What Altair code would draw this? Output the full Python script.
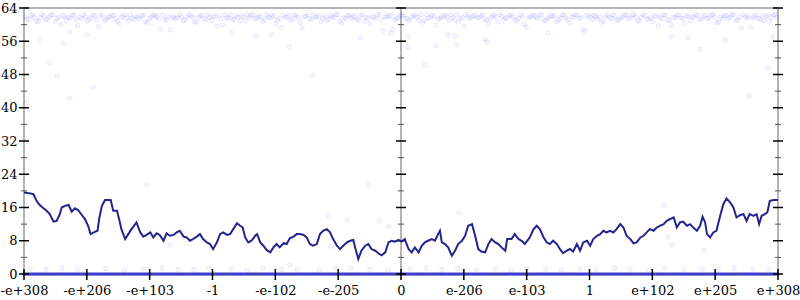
import json
import altair as alt
import numpy as np
import pandas as pd

# ---------------- data ----------------
X_LABELS = ["-e+308", "-e+206", "-e+103", "-1", "-e-102", "-e-205", "0",
            "e-206", "e-103", "1", "e+102", "e+205", "e+308"]
X_TICKS = list(range(13))
Y_MAJOR = list(range(0, 65, 8))
Y_MINOR = list(range(4, 64, 8))
AXIS_POS = [0, 6, 12]

# rolling average error (bits)
LINE_X = [0.00, 0.10, 0.15, 0.20, 0.25, 0.31, 0.36, 0.41, 0.47, 0.52, 0.57, 0.60, 0.65, 0.71, 0.76, 0.81,
          0.86, 0.92, 0.97, 1.02, 1.06, 1.11, 1.17, 1.20, 1.24, 1.29, 1.34, 1.38, 1.42, 1.48, 1.52, 1.55,
          1.61, 1.66, 1.71, 1.79, 1.85, 1.90, 1.95, 2.01, 2.06, 2.11, 2.16, 2.22, 2.27, 2.32, 2.38, 2.43,
          2.48, 2.54, 2.59, 2.64, 2.69, 2.75, 2.80, 2.85, 2.91, 2.96, 3.01, 3.07, 3.12, 3.17, 3.23, 3.28,
          3.33, 3.39, 3.44, 3.48, 3.52, 3.57, 3.62, 3.68, 3.71, 3.76, 3.81, 3.86, 3.92, 3.97, 4.02, 4.07,
          4.13, 4.18, 4.23, 4.29, 4.34, 4.39, 4.45, 4.50, 4.55, 4.60, 4.66, 4.71, 4.76, 4.82, 4.87, 4.92,
          4.98, 5.03, 5.08, 5.14, 5.19, 5.24, 5.27, 5.32, 5.37, 5.43, 5.48, 5.53, 5.59, 5.64, 5.69, 5.75,
          5.80, 5.85, 5.90, 5.96, 6.01, 6.06, 6.12, 6.17, 6.22, 6.28, 6.33, 6.38, 6.43, 6.49, 6.54, 6.59,
          6.62, 6.65, 6.70, 6.75, 6.81, 6.86, 6.91, 6.97, 7.02, 7.07, 7.13, 7.18, 7.23, 7.28, 7.34, 7.39,
          7.44, 7.50, 7.55, 7.60, 7.66, 7.69, 7.76, 7.81, 7.87, 7.92, 7.97, 8.05, 8.11, 8.16, 8.21, 8.27,
          8.32, 8.37, 8.42, 8.48, 8.53, 8.58, 8.64, 8.69, 8.74, 8.80, 8.85, 8.90, 8.96, 9.01, 9.06, 9.12,
          9.17, 9.22, 9.27, 9.33, 9.38, 9.43, 9.49, 9.54, 9.59, 9.65, 9.70, 9.75, 9.81, 9.86, 9.91, 9.96,
          10.02, 10.07, 10.12, 10.18, 10.23, 10.28, 10.34, 10.39, 10.44, 10.49, 10.55, 10.60, 10.65, 10.71,
          10.76, 10.80, 10.84, 10.87, 10.92, 10.97, 11.02, 11.08, 11.13, 11.18, 11.24, 11.29, 11.34, 11.40,
          11.45, 11.50, 11.55, 11.61, 11.66, 11.70, 11.74, 11.79, 11.83, 11.87, 11.93, 12.00]
LINE_Y = [19.6, 19.4, 19.2, 17.6, 16.6, 15.8, 15.2, 14.4, 12.6, 12.8, 14.4, 16.0, 16.4, 16.6, 15.0, 15.8,
          15.4, 14.2, 13.2, 11.6, 9.6, 10.0, 10.4, 13.6, 16.4, 17.8, 17.8, 17.8, 15.2, 15.2, 12.8, 10.8,
          8.4, 9.6, 10.8, 12.4, 10.0, 9.0, 9.4, 10.0, 8.8, 9.8, 9.4, 8.0, 9.8, 9.2, 9.4, 10.0,
          10.4, 9.0, 8.8, 8.0, 8.4, 9.0, 9.6, 8.4, 7.6, 7.2, 6.0, 7.6, 9.6, 10.0, 9.4, 9.6,
          10.8, 12.2, 11.6, 11.2, 8.8, 7.6, 8.0, 9.2, 9.6, 7.6, 6.8, 5.8, 5.2, 6.4, 7.2, 6.4,
          7.4, 7.2, 8.6, 9.0, 9.6, 9.6, 9.4, 8.8, 7.2, 6.8, 7.2, 9.6, 10.4, 10.8, 10.0, 8.4,
          6.8, 6.0, 6.8, 7.6, 8.0, 8.2, 6.4, 3.6, 5.6, 6.8, 7.2, 6.0, 5.6, 5.0, 4.5, 5.2,
          7.6, 8.0, 7.8, 8.2, 7.8, 8.4, 6.0, 5.2, 6.4, 5.2, 6.8, 7.6, 8.0, 8.4, 8.0, 9.6,
          10.4, 7.6, 7.2, 6.4, 4.4, 5.6, 7.2, 8.0, 9.2, 11.6, 12.0, 9.2, 6.0, 5.4, 5.2, 7.2,
          8.4, 7.6, 7.2, 6.4, 5.6, 8.4, 8.4, 9.6, 8.4, 8.0, 7.2, 8.8, 10.8, 11.6, 10.8, 8.8,
          7.6, 7.2, 8.0, 7.2, 6.0, 5.0, 5.6, 6.0, 5.4, 7.2, 5.6, 7.6, 8.0, 6.8, 8.4, 9.2,
          9.6, 10.4, 10.0, 10.4, 10.0, 10.8, 12.0, 11.2, 9.2, 8.4, 7.4, 7.6, 8.8, 9.2, 10.0, 10.8,
          10.4, 11.2, 11.6, 12.0, 12.8, 13.2, 13.6, 11.2, 12.4, 12.6, 11.6, 12.0, 11.2, 10.4,
          11.6, 13.8, 12.4, 9.6, 8.8, 10.0, 10.4, 14.0, 16.8, 18.2, 17.2, 16.0, 13.6, 14.2,
          14.4, 12.8, 14.4, 14.0, 14.4, 12.0, 14.0, 14.4, 14.8, 17.6, 17.8, 17.8]

# per-sample errors of the badly-rounded samples, in sample order (two interleaved runs)
TOP_A = [
    61.9, 61.2, 62.3, 60.9, 61.7, 62.1, 61.4, 62.4, 60.8, 61.8, 62.2, 61.0, 61.6, 62.3, 59.8, 61.5, 62.0, 61.3, 62.4, 61.1,
    62.1, 60.9, 61.7, 62.3, 61.4, 60.2, 62.0, 61.6, 62.4, 61.2, 61.8, 62.2, 60.7, 61.5, 62.3, 61.9, 58.9, 61.3, 62.1, 61.7,
    61.5, 62.4, 61.0, 61.9, 62.2, 60.6, 61.7, 62.3, 61.2, 61.8, 62.0, 59.6, 61.4, 62.4, 61.6, 61.1, 62.2, 60.9, 61.8, 62.3,
    62.2, 61.3, 61.9, 60.8, 62.4, 61.6, 62.0, 61.1, 59.3, 61.7, 62.3, 61.4, 62.1, 60.5, 61.9, 62.4, 61.2, 61.8, 62.0, 61.5,
    61.0, 62.1, 61.7, 62.4, 60.3, 61.5, 62.2, 61.9, 61.2, 62.3, 60.8, 61.6, 62.0, 61.3, 62.4, 58.6, 61.8, 62.2, 61.1, 61.7,
    62.3, 61.5, 60.9, 62.1, 61.8, 62.4, 61.0, 61.6, 62.2, 59.9, 61.4, 62.0, 61.9, 62.3, 61.2, 60.6, 61.7, 62.4, 61.5, 62.1,
    61.6, 62.2, 61.3, 60.4, 62.0, 61.8, 62.4, 61.1, 61.7, 62.3, 60.9, 61.5, 62.1, 59.4, 61.9, 62.2, 61.4, 62.4, 61.0, 61.8,
    62.0, 60.7, 61.6, 62.3, 61.2, 61.9, 62.4, 61.5, 58.8, 62.1, 61.7, 62.2, 61.3, 60.5, 62.0, 61.8, 62.4, 61.1, 61.6, 62.3,
    61.4, 62.2, 61.9, 60.8, 62.4, 61.3, 61.7, 62.1, 59.7, 61.5, 62.3, 61.0, 61.8, 62.2, 61.6, 60.3, 62.0, 61.9, 62.4, 61.2,
    62.1, 61.5, 62.3, 61.8, 60.6, 61.4, 62.2, 61.7, 62.4, 61.1, 59.1, 61.9, 62.0, 61.6, 62.3, 61.3, 60.9, 62.1, 61.8, 62.4,
]
TOP_B = [
    61.4, 62.2, 61.8, 60.7, 62.4, 61.1, 61.9, 62.3, 61.5, 60.1, 62.0, 61.7, 62.3, 61.2, 61.8, 62.4, 60.9, 61.6, 62.1, 59.5,
    62.3, 61.3, 61.9, 62.2, 60.8, 61.7, 62.4, 61.0, 61.6, 62.0, 61.4, 62.3, 60.4, 61.8, 62.2, 61.5, 62.4, 61.1, 58.7, 61.9,
    61.7, 62.0, 61.2, 62.4, 61.8, 60.6, 62.1, 61.5, 62.3, 61.0, 61.9, 62.2, 59.9, 61.6, 62.4, 61.3, 61.8, 62.1, 60.9, 61.7,
    62.4, 61.6, 62.0, 61.2, 61.9, 62.3, 60.2, 61.5, 62.2, 61.8, 61.1, 62.4, 61.7, 59.2, 62.0, 61.4, 62.3, 61.9, 60.7, 62.1,
    61.3, 61.9, 62.4, 60.8, 61.6, 62.2, 61.5, 62.0, 61.1, 62.3, 61.8, 60.3, 61.7, 62.4, 61.2, 61.9, 62.1, 58.9, 61.4, 62.2,
    62.0, 61.4, 61.8, 62.3, 61.0, 60.5, 62.4, 61.7, 62.1, 61.3, 61.9, 62.2, 60.9, 61.6, 62.4, 61.5, 59.6, 62.0, 61.8, 62.3,
    61.8, 62.3, 61.1, 61.7, 62.4, 60.6, 62.0, 61.5, 62.2, 61.9, 61.2, 62.4, 60.1, 61.6, 62.1, 61.8, 62.3, 61.0, 61.4, 62.2,
    62.1, 61.2, 62.4, 61.6, 60.4, 61.9, 62.2, 61.7, 58.5, 62.3, 61.3, 62.0, 61.8, 60.8, 62.4, 61.5, 62.1, 61.1, 61.9, 62.3,
    61.6, 62.4, 61.0, 61.8, 62.2, 61.4, 60.7, 62.0, 61.9, 62.3, 61.2, 59.8, 61.7, 62.4, 61.5, 62.1, 60.9, 61.8, 62.2, 61.3,
    62.2, 61.7, 62.4, 60.5, 61.9, 62.1, 61.4, 62.3, 61.0, 61.8, 62.4, 61.6, 59.4, 62.0, 61.5, 62.2, 61.9, 60.8, 62.3, 61.7,
]

# scattered samples in between
OUT_X = [0.04, 0.25, 0.41, 0.53, 0.62, 0.72, 0.73, 1.00, 1.10, 3.31, 3.69, 3.93, 4.22, 4.60, 5.36, 5.83,
         6.11, 6.11, 6.38, 6.56, 6.75, 6.86, 6.89, 7.34, 7.37, 8.34, 10.30, 10.57, 10.76, 11.16, 11.54,
         11.84, 11.92, 1.95, 2.32, 4.23, 4.84, 4.89, 5.14, 5.25, 5.48, 5.65, 5.81, 6.92, 10.19, 10.25,
         10.31, 10.82]
OUT_Y = [41.2, 56.5, 50.8, 47.6, 55.5, 42.3, 58.2, 57.5, 44.9, 58.0, 57.3, 57.6, 54.7, 47.8, 56.8, 58.0,
         57.1, 54.7, 50.3, 54.9, 57.5, 57.4, 55.1, 56.5, 55.8, 58.0, 57.1, 56.9, 54.1, 56.3, 42.8,
         49.6, 57.1, 21.4, 7.0, 2.2, 14.2, 6.6, 12.9, 7.8, 21.3, 12.8, 11.4, 14.7, 16.5, 9.0,
         7.0, 5.8]

# samples with about one bit of error
ONE_X = [0.10, 0.35, 0.60, 0.85, 1.30, 1.60, 1.90, 2.20, 2.45, 2.70, 2.95, 3.30, 3.55, 3.80, 4.10,
         4.35, 4.70, 4.95, 5.20, 5.50, 5.80, 6.15, 6.40, 6.65, 6.90, 7.20, 7.50, 7.75, 8.00, 8.30,
         8.55, 8.85, 9.10, 9.40, 9.65, 9.95, 10.20, 10.50, 10.80, 11.05, 11.30, 11.60, 11.85]
ONE_Y = [1.2, 1.0, 1.4, 1.1, 1.3, 0.9, 1.2, 1.5, 1.1, 1.0, 1.3, 1.2, 0.8, 1.4, 1.1,
         1.2, 1.0, 1.3, 1.5, 1.1, 0.9, 1.2, 1.4, 1.0, 1.3, 1.1, 1.2, 0.9, 1.4, 1.2,
         1.0, 1.3, 1.1, 1.5, 1.2, 0.9, 1.3, 1.1, 1.2, 1.0, 1.4, 1.2, 1.1]

ZERO_SAMPLES = 400  # exactly-rounded samples (0 bits of error), spread over the range

# ---------------- frames ----------------
xa = [(i + 0.25) * 12 / len(TOP_A) for i in range(len(TOP_A))]
xb = [(i + 0.75) * 12 / len(TOP_B) for i in range(len(TOP_B))]
scatter = pd.DataFrame({
    "x": xa + xb + OUT_X + ONE_X,
    "y": TOP_A + TOP_B + OUT_Y + ONE_Y,
})
zeros = pd.DataFrame({"x": np.linspace(0, 12, ZERO_SAMPLES), "y": 0.0})
line_df = pd.DataFrame({"x": LINE_X, "y": LINE_Y})
vax = pd.DataFrame({"x": AXIS_POS, "y0": 0, "y1": 64})
hax = pd.DataFrame({"x0": [0, 0], "x1": [12, 12], "y": [0, 64]})
ymaj = pd.DataFrame([{"x": a, "y": v} for a in AXIS_POS for v in Y_MAJOR])
ymin = pd.DataFrame([{"x": a, "y": v} for a in AXIS_POS for v in Y_MINOR])
xt = pd.DataFrame({"x": X_TICKS, "y": 0})

FONT = "DejaVu Serif"
xs = alt.Scale(domain=[0, 12], nice=False, zero=False)
ys = alt.Scale(domain=[0, 64], nice=False, zero=False)
x_axis = alt.Axis(values=X_TICKS, labelExpr=json.dumps(X_LABELS) + "[datum.value]",
                  ticks=False, domain=False, grid=False, labelPadding=10, labelFont=FONT,
                  labelFontSize=13, labelColor="black", labelOverlap=False, labelBound=False,
                  labelFlush=False, title=None)
y_axis = alt.Axis(values=Y_MAJOR, ticks=False, domain=False, grid=False, labelPadding=7,
                  labelFont=FONT, labelFontSize=13, labelColor="black", labelOverlap=False,
                  labelBound=False, labelFlush=False, title=None)


def X(f):
    return alt.X(f, type="quantitative", scale=xs, axis=x_axis)


def Y(f):
    return alt.Y(f, type="quantitative", scale=ys, axis=y_axis)


frame_v = alt.Chart(vax).mark_rule(color="#b4b4b4", strokeWidth=2).encode(
    x=X("x"), y=Y("y0"), y2="y1")
frame_h = alt.Chart(hax).mark_rule(color="#b4b4b4", strokeWidth=2).encode(
    x=X("x0"), x2="x1", y=Y("y"))

pts = alt.Chart(scatter).mark_point(shape="circle", size=20, fill="#0000ff", fillOpacity=0.035,
                                    stroke="#0000ff", strokeOpacity=0.07, strokeWidth=1).encode(
    x=X("x"), y=Y("y"))
zpts = alt.Chart(zeros).mark_point(shape="circle", size=14, filled=True, color="#1e1ecc",
                                   opacity=0.6).encode(x=X("x"), y=Y("y"))

ytick_major = alt.Chart(ymaj).mark_rule(color="black", strokeWidth=1.5, xOffset=-5, x2Offset=5).encode(
    x=X("x"), x2="x", y=Y("y"))
ytick_minor = alt.Chart(ymin).mark_rule(color="#555555", strokeWidth=1, xOffset=-3, x2Offset=3).encode(
    x=X("x"), x2="x", y=Y("y"))
xtick = alt.Chart(xt).mark_rule(color="black", strokeWidth=1.5, yOffset=6, y2Offset=-5).encode(
    x=X("x"), y=Y("y"), y2="y")

line = alt.Chart(line_df).mark_line(color="#24248e", strokeWidth=2).encode(x=X("x"), y=Y("y"))

chart = alt.layer(frame_v, frame_h, pts, zpts, ytick_major, ytick_minor, xtick, line).properties(
    width=754, height=266,
    padding={"left": 24, "top": 8, "right": 22, "bottom": 26},
    autosize=alt.AutoSizeParams(type="none"),
).configure_view(stroke=None).configure(background="white")

chart.save("out.html", embed_options={"renderer": "svg", "actions": False})
